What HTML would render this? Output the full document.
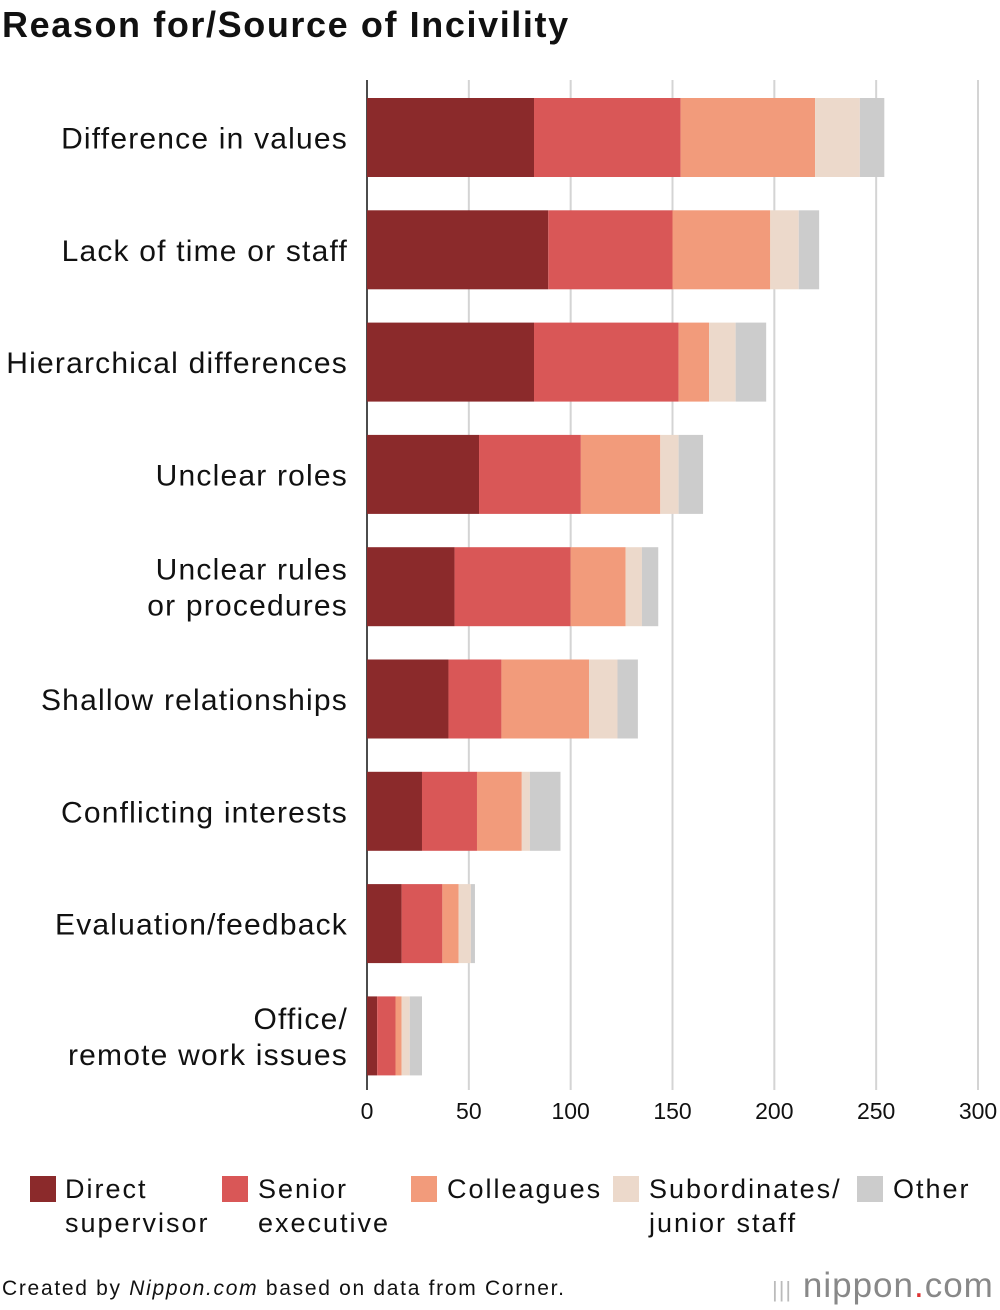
<!DOCTYPE html>
<html><head><meta charset="utf-8"><style>
body{margin:0;background:#fff;font-family:"Liberation Sans",sans-serif;}
#wrap{position:relative;width:1000px;height:1310px;overflow:hidden}
.t{position:absolute;white-space:nowrap;color:#111}
.lg{font-size:27px;line-height:34px;letter-spacing:2px}
</style></head><body><div id="wrap">
<div class="t" style="left:2px;top:4px;font-size:36px;font-weight:bold;letter-spacing:1.6px">Reason for/Source of Incivility</div>
<svg id="chart" width="1000" height="1150" style="position:absolute;left:0;top:0"></svg>
<div>
<div class="t lg" style="left:30px;top:1172px"><span style="position:absolute;left:0;top:4px;width:26px;height:26px;background:#8b2a2b"></span><span style="margin-left:35px;display:inline-block">Direct<br>supervisor</span></div>
<div class="t lg" style="left:222px;top:1172px"><span style="position:absolute;left:0;top:4px;width:26px;height:26px;background:#d95757"></span><span style="margin-left:36px;display:inline-block">Senior<br>executive</span></div>
<div class="t lg" style="left:411px;top:1172px"><span style="position:absolute;left:0;top:4px;width:26px;height:26px;background:#f29b7b"></span><span style="margin-left:36px;display:inline-block">Colleagues</span></div>
<div class="t lg" style="left:613px;top:1172px"><span style="position:absolute;left:0;top:4px;width:26px;height:26px;background:#ecd9cb"></span><span style="margin-left:36px;display:inline-block">Subordinates/<br>junior staff</span></div>
<div class="t lg" style="left:857px;top:1172px"><span style="position:absolute;left:0;top:4px;width:26px;height:26px;background:#cccccc"></span><span style="margin-left:36px;display:inline-block">Other</span></div>
</div>
<div class="t" style="left:2px;top:1277px;font-size:21px;letter-spacing:1.7px">Created by <i>Nippon.com</i> based on data from Corner.</div>
<div class="t" style="left:772px;top:1266px;font-size:35px;color:#888;letter-spacing:1px"><span style="font-size:22px;color:#bbb">|||</span> nippon<span style="color:#d33">.</span>com</div>
</div>
<script>
const categories=[["Difference in values"],["Lack of time or staff"],["Hierarchical differences"],["Unclear roles"],["Unclear rules","or procedures"],["Shallow relationships"],["Conflicting interests"],["Evaluation/feedback"],["Office/","remote work issues"]];
const directSupervisor=[82,89,82,55,43,40,27,17,5];
const seniorExecutive=[72,61,71,50,57,26,27,20,9];
const colleagues=[66,48,15,39,27,43,22,8,3];
const subordinates=[22,14,13,9,8,14,4,6,4];
const other=[12,10,15,12,8,10,15,2,6];
const ticks=[0,50,100,150,200,250,300];
const seriesNames=["direct-supervisor","senior-executive","colleagues","subordinates","other"];
const colors=["#8b2a2b","#d95757","#f29b7b","#ecd9cb","#cccccc"];
const series=[directSupervisor,seniorExecutive,colleagues,subordinates,other];
const NS="http://www.w3.org/2000/svg",svg=document.getElementById('chart');
const x=v=>367+v*(978-367)/300;
const yTop=i=>98+i*112.3, bh=79;
function mk(t,a){const e=document.createElementNS(NS,t);for(const k in a)e.setAttribute(k,a[k]);svg.appendChild(e);return e;}
ticks.forEach(t=>{
  const g=mk('line',{x1:x(t),x2:x(t),y1:80,y2:1090,stroke:t===0?'#111':'#d4d4d4','stroke-width':t===0?1.5:2});
  
  
  const l=mk('text',{x:x(t),y:1119,'text-anchor':'middle','font-size':23,fill:'#111'});
  l.textContent=t;
  
  
});
categories.forEach((c,i)=>{
  let acc=0;
  series.forEach((s,j)=>{
    const r=mk('rect',{x:x(acc),y:yTop(i),width:x(acc+s[i])-x(acc),height:bh,fill:colors[j]});
    
    
    acc+=s[i];
  });
  const cy=yTop(i)+bh/2;
  c.forEach((line,k)=>{
    const t=mk('text',{x:348,y:cy+11+(k-(c.length-1)/2)*36,'text-anchor':'end','font-size':30,'letter-spacing':1.2,fill:'#111'});
    t.textContent=line;
    
    
  });
});
</script></body></html>
